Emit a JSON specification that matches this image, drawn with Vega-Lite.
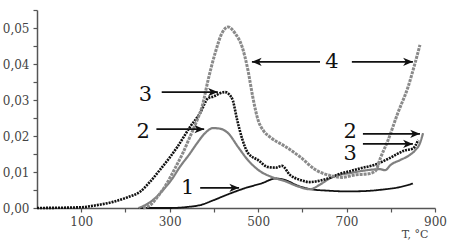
{
  "$schema": "https://vega.github.io/schema/vega-lite/v6.json",
  "width": 398,
  "height": 198,
  "autosize": {"type": "none"},
  "padding": {"left": 37, "top": 10, "right": 14, "bottom": 32},
  "background": "white",
  "config": {
    "view": {"stroke": null},
    "font": "DejaVu Serif",
    "axis": {"labelOverlap": false, "labelSeparation": 0, "labelFlush": false},
    "axisY": {"labelOverlap": false},
    "axisQuantitative": {"labelOverlap": false}
  },
  "datasets": {
    "curves": [
      {"s": "1", "T": 230, "v": 0}, {"s": "1", "T": 300, "v": 0}, {"s": "1", "T": 340, "v": 0.0003}, {"s": "1", "T": 369, "v": 0.0008}, {"s": "1", "T": 400, "v": 0.0022}, {"s": "1", "T": 432, "v": 0.0038}, {"s": "1", "T": 470, "v": 0.0055}, {"s": "1", "T": 509, "v": 0.0069}, {"s": "1", "T": 540, "v": 0.0082}, {"s": "1", "T": 560, "v": 0.0078}, {"s": "1", "T": 590, "v": 0.0062}, {"s": "1", "T": 620, "v": 0.0052}, {"s": "1", "T": 660, "v": 0.0048}, {"s": "1", "T": 700, "v": 0.0046}, {"s": "1", "T": 740, "v": 0.0047}, {"s": "1", "T": 780, "v": 0.0051}, {"s": "1", "T": 820, "v": 0.0058}, {"s": "1", "T": 850, "v": 0.0068},
      {"s": "2", "T": 230, "v": 0}, {"s": "2", "T": 260, "v": 0.002}, {"s": "2", "T": 285, "v": 0.005}, {"s": "2", "T": 305, "v": 0.008}, {"s": "2", "T": 323, "v": 0.0114}, {"s": "2", "T": 345, "v": 0.015}, {"s": "2", "T": 362, "v": 0.018}, {"s": "2", "T": 380, "v": 0.0208}, {"s": "2", "T": 398, "v": 0.0222}, {"s": "2", "T": 415, "v": 0.022}, {"s": "2", "T": 432, "v": 0.0208}, {"s": "2", "T": 455, "v": 0.0169}, {"s": "2", "T": 477, "v": 0.0133}, {"s": "2", "T": 500, "v": 0.0106}, {"s": "2", "T": 531, "v": 0.0086}, {"s": "2", "T": 560, "v": 0.0075}, {"s": "2", "T": 590, "v": 0.006}, {"s": "2", "T": 617, "v": 0.0052}, {"s": "2", "T": 640, "v": 0.0065}, {"s": "2", "T": 663, "v": 0.0083}, {"s": "2", "T": 685, "v": 0.0092}, {"s": "2", "T": 708, "v": 0.0097}, {"s": "2", "T": 730, "v": 0.0102}, {"s": "2", "T": 753, "v": 0.0106}, {"s": "2", "T": 775, "v": 0.0108}, {"s": "2", "T": 787, "v": 0.0105}, {"s": "2", "T": 800, "v": 0.012}, {"s": "2", "T": 821, "v": 0.0133}, {"s": "2", "T": 840, "v": 0.0145}, {"s": "2", "T": 855, "v": 0.016}, {"s": "2", "T": 866, "v": 0.018}, {"s": "2", "T": 873, "v": 0.0208},
      {"s": "3", "T": 0, "v": 0}, {"s": "3", "T": 97, "v": 0.0002}, {"s": "3", "T": 136, "v": 0.0008}, {"s": "3", "T": 172, "v": 0.0017}, {"s": "3", "T": 205, "v": 0.003}, {"s": "3", "T": 233, "v": 0.0045}, {"s": "3", "T": 255, "v": 0.0072}, {"s": "3", "T": 278, "v": 0.0106}, {"s": "3", "T": 300, "v": 0.014}, {"s": "3", "T": 317, "v": 0.0169}, {"s": "3", "T": 346, "v": 0.0225}, {"s": "3", "T": 369, "v": 0.0264}, {"s": "3", "T": 387, "v": 0.0305}, {"s": "3", "T": 400, "v": 0.031}, {"s": "3", "T": 412, "v": 0.0318}, {"s": "3", "T": 425, "v": 0.0322}, {"s": "3", "T": 435, "v": 0.0315}, {"s": "3", "T": 443, "v": 0.0298}, {"s": "3", "T": 452, "v": 0.0248}, {"s": "3", "T": 464, "v": 0.0192}, {"s": "3", "T": 477, "v": 0.0153}, {"s": "3", "T": 500, "v": 0.0133}, {"s": "3", "T": 522, "v": 0.0114}, {"s": "3", "T": 540, "v": 0.0112}, {"s": "3", "T": 554, "v": 0.0117}, {"s": "3", "T": 572, "v": 0.0092}, {"s": "3", "T": 595, "v": 0.0078}, {"s": "3", "T": 617, "v": 0.0072}, {"s": "3", "T": 640, "v": 0.0076}, {"s": "3", "T": 665, "v": 0.0085}, {"s": "3", "T": 685, "v": 0.0095}, {"s": "3", "T": 710, "v": 0.0103}, {"s": "3", "T": 730, "v": 0.011}, {"s": "3", "T": 764, "v": 0.012}, {"s": "3", "T": 798, "v": 0.0139}, {"s": "3", "T": 832, "v": 0.016}, {"s": "3", "T": 850, "v": 0.0165}, {"s": "3", "T": 862, "v": 0.0189},
      {"s": "4", "T": 240, "v": 0}, {"s": "4", "T": 256, "v": 0.0008}, {"s": "4", "T": 275, "v": 0.0035}, {"s": "4", "T": 294, "v": 0.0069}, {"s": "4", "T": 312, "v": 0.011}, {"s": "4", "T": 330, "v": 0.0153}, {"s": "4", "T": 346, "v": 0.0198}, {"s": "4", "T": 362, "v": 0.0244}, {"s": "4", "T": 373, "v": 0.028}, {"s": "4", "T": 387, "v": 0.0356}, {"s": "4", "T": 403, "v": 0.0431}, {"s": "4", "T": 418, "v": 0.0485}, {"s": "4", "T": 432, "v": 0.0503}, {"s": "4", "T": 448, "v": 0.0485}, {"s": "4", "T": 464, "v": 0.0447}, {"s": "4", "T": 477, "v": 0.0383}, {"s": "4", "T": 488, "v": 0.0308}, {"s": "4", "T": 500, "v": 0.0244}, {"s": "4", "T": 512, "v": 0.0215}, {"s": "4", "T": 527, "v": 0.0197}, {"s": "4", "T": 560, "v": 0.0172}, {"s": "4", "T": 595, "v": 0.0142}, {"s": "4", "T": 630, "v": 0.0106}, {"s": "4", "T": 663, "v": 0.009}, {"s": "4", "T": 690, "v": 0.0085}, {"s": "4", "T": 720, "v": 0.0092}, {"s": "4", "T": 750, "v": 0.0095}, {"s": "4", "T": 766, "v": 0.0104}, {"s": "4", "T": 776, "v": 0.0137}, {"s": "4", "T": 794, "v": 0.0189}, {"s": "4", "T": 816, "v": 0.0264}, {"s": "4", "T": 839, "v": 0.0336}, {"s": "4", "T": 855, "v": 0.0403}, {"s": "4", "T": 866, "v": 0.0453}
    ],
    "labels": [
      {"label": "4", "T": 667, "v": 0.0406},
      {"label": "3", "T": 245, "v": 0.0313},
      {"label": "2", "T": 240, "v": 0.0211},
      {"label": "1", "T": 341, "v": 0.0056},
      {"label": "2", "T": 708, "v": 0.0212},
      {"label": "3", "T": 708, "v": 0.0151}
    ],
    "arrows": [
      {"T": 640, "T2": 486, "v": 0.0406, "dir": "left"},
      {"T": 712, "T2": 850, "v": 0.0406, "dir": "right"},
      {"T": 282, "T2": 409, "v": 0.0322, "dir": "right"},
      {"T": 270, "T2": 378, "v": 0.0219, "dir": "right"},
      {"T": 369, "T2": 457, "v": 0.0056, "dir": "right"},
      {"T": 737, "T2": 866, "v": 0.0206, "dir": "right"},
      {"T": 737, "T2": 850, "v": 0.0178, "dir": "right"}
    ]
  },
  "encoding": {
    "x": {
      "field": "T", "type": "quantitative",
      "scale": {"domain": [0, 900], "nice": false},
      "axis": {
        "values": [100, 200, 300, 400, 500, 600, 700, 800, 900],
        "labelExpr": "datum.value % 200 == 100 ? datum.label : ''",
        "labelOverlap": false,
        "grid": false, "tickSize": 4, "labelPadding": 4,
        "domainColor": "#555", "domainWidth": 1.5, "tickColor": "#555", "tickWidth": 1.2,
        "labelFont": "DejaVu Serif", "labelFontSize": 12, "labelColor": "#444",
        "title": "T, °C", "titleFont": "DejaVu Serif", "titleFontSize": 11, "titleFontWeight": "normal",
        "titleColor": "#444", "titleAnchor": "end", "titleAlign": "right", "titleX": 391, "titleY": 29, "titleBaseline": "alphabetic"
      }
    },
    "y": {
      "field": "v", "type": "quantitative",
      "scale": {"domain": [0, 0.055], "nice": false},
      "axis": {
        "values": [0, 0.005, 0.01, 0.015, 0.02, 0.025, 0.03, 0.035, 0.04, 0.045, 0.05, 0.055],
        "labelExpr": "(abs(datum.value * 100 - round(datum.value * 100)) < 0.001 && datum.value < 0.052) ? replace(format(datum.value, '.2f'), '.', ',') : ''",
        "labelOverlap": false,
        "grid": false, "tickSize": 4, "labelPadding": 4,
        "domainColor": "#555", "domainWidth": 1.5, "tickColor": "#555", "tickWidth": 1.2,
        "labelFont": "DejaVu Serif", "labelFontSize": 12, "labelColor": "#444",
        "title": null
      }
    }
  },
  "layer": [
    {
      "data": {"name": "curves"},
      "mark": {"type": "line", "interpolate": "monotone"},
      "encoding": {
        "detail": {"field": "s"},
        "color": {"field": "s", "type": "nominal", "legend": null,
          "scale": {"domain": ["1", "2", "3", "4"], "range": ["#111111", "#808080", "#111111", "#8a8a8a"]}},
        "strokeWidth": {"field": "s", "type": "nominal", "legend": null,
          "scale": {"domain": ["1", "2", "3", "4"], "range": [1.8, 3, 2.4, 2.6]}},
        "strokeDash": {"field": "s", "type": "nominal", "legend": null,
          "scale": {"domain": ["1", "2", "3", "4"], "range": [[1, 0], [1, 0], [2, 1], [3, 1]]}}
      }
    },
    {
      "data": {"name": "arrows"},
      "mark": {"type": "rule", "color": "#111", "strokeWidth": 1.6},
      "encoding": {
        "x2": {"field": "T2"}
      }
    },
    {
      "data": {"name": "arrows"},
      "transform": [{"filter": "datum.dir == 'right'"}],
      "mark": {"type": "point", "shape": "M0,0 L-1,-0.42 L-0.72,0 L-1,0.42 Z", "filled": true, "color": "#111", "size": 380, "opacity": 1},
      "encoding": {
        "x": {"field": "T2", "type": "quantitative"}
      }
    },
    {
      "data": {"name": "arrows"},
      "transform": [{"filter": "datum.dir == 'left'"}],
      "mark": {"type": "point", "shape": "M0,0 L1,-0.42 L0.72,0 L1,0.42 Z", "filled": true, "color": "#111", "size": 380, "opacity": 1},
      "encoding": {
        "x": {"field": "T2", "type": "quantitative"}
      }
    },
    {
      "data": {"name": "labels"},
      "mark": {"type": "text", "font": "DejaVu Serif", "fontSize": 21, "color": "#111", "align": "center", "baseline": "middle"},
      "encoding": {
        "text": {"field": "label"}
      }
    }
  ]
}
